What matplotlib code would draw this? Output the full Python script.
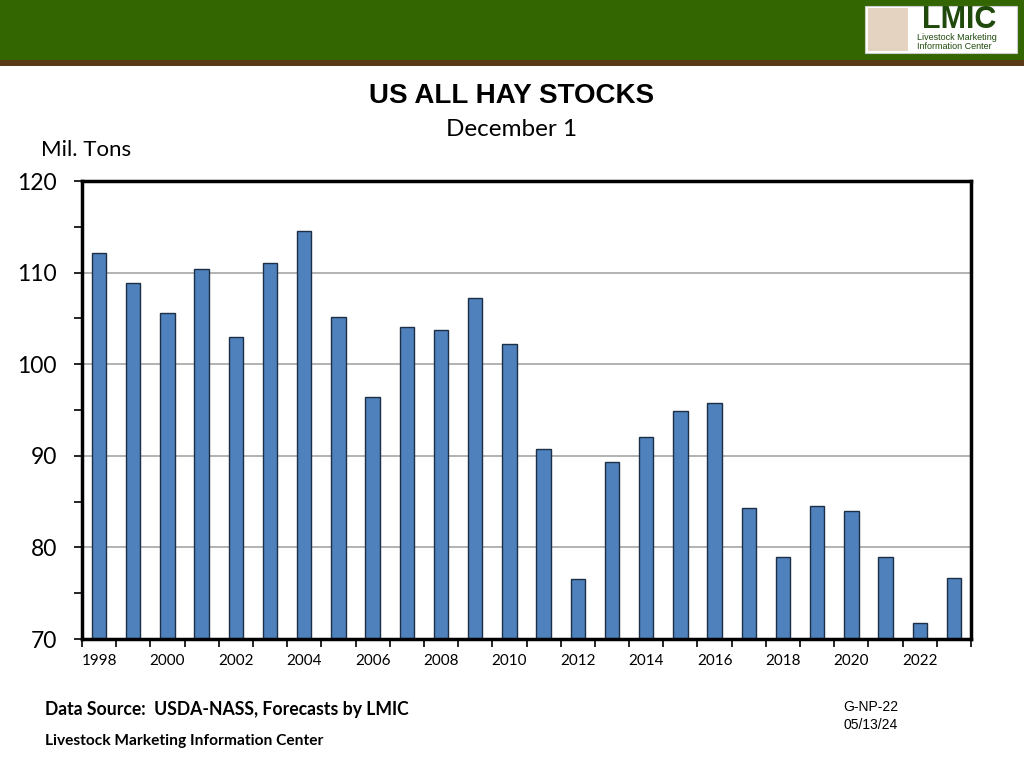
"""
US All Hay Stocks - December 1 (LMIC chart G-NP-22)
"""
import numpy as np
import matplotlib.pyplot as plt
from matplotlib.patches import Rectangle
from matplotlib.ticker import MultipleLocator

# Données (millions de tonnes)
years = list(range(1998, 2024))
stocks = [112.1, 108.9, 105.6, 110.4, 103.0, 111.0, 114.5, 105.2, 96.4, 104.1,
          103.7, 107.2, 102.2, 90.7, 76.5, 89.3, 92.0, 94.9, 95.8, 84.3,
          79.0, 84.5, 84.0, 79.0, 71.7, 76.7]
year_labels = [str(y) if y % 2 == 0 else "" for y in years]

BODY_FONT = ["Lato", "DejaVu Sans"]
ARIAL = ["Liberation Sans", "DejaVu Sans"]

fig = plt.figure(figsize=(10.24, 7.68), dpi=100)
fig.patch.set_facecolor("white")

# Bandeau vert + filet brun en haut
fig.patches.append(Rectangle((0, 1 - 60 / 768), 1, 60 / 768, transform=fig.transFigure,
                             facecolor="#336600", edgecolor="none", zorder=0))
fig.patches.append(Rectangle((0, 1 - 66 / 768), 1, 6 / 768, transform=fig.transFigure,
                             facecolor="#5b3b17", edgecolor="none", zorder=0))

# Logo LMIC (simplifié)
fig.patches.append(Rectangle((865 / 1024, 1 - 53 / 768), 152 / 1024, 47 / 768,
                             transform=fig.transFigure, facecolor="white",
                             edgecolor="#cccccc", linewidth=0.8, zorder=1))
fig.patches.append(Rectangle((868 / 1024, 1 - 51 / 768), 40 / 1024, 43 / 768,
                             transform=fig.transFigure, facecolor="#e3d3c0",
                             edgecolor="none", zorder=2))
fig.text(959 / 1024, 1 - 20 / 768, "LMIC", fontsize=22, fontweight="bold",
         color="#1f4a0c", ha="center", va="center", family=ARIAL, zorder=3)
fig.text(917 / 1024, 1 - 42 / 768, "Livestock Marketing\nInformation Center",
         fontsize=6.5, color="#1f4a0c", ha="left", va="center",
         family=ARIAL, linespacing=1.0, zorder=3)

# Titres
fig.text(512 / 1024, 1 - 96 / 768, "US ALL HAY STOCKS", fontsize=20,
         fontweight="bold", ha="center", va="center", family=ARIAL)
fig.text(512 / 1024, 1 - 130 / 768, "December 1", fontsize=17.5,
         ha="center", va="center", family=BODY_FONT)
fig.text(86 / 1024, 1 - 150 / 768, "Mil. Tons", fontsize=16,
         ha="center", va="center", family=BODY_FONT)

# Zone du graphique
ax = fig.add_axes([82 / 1024, 1 - 639 / 768, 889 / 1024, 458 / 768])
x = np.arange(len(years))
ax.bar(x, [s - 70 for s in stocks], bottom=70, width=0.42, color="#4f81bd",
       edgecolor="#1c2f44", linewidth=1.0, zorder=3)

ax.set_xlim(-0.5, len(years) - 0.5)
ax.set_ylim(70, 120)
ax.yaxis.set_major_locator(MultipleLocator(10))
ax.yaxis.set_minor_locator(MultipleLocator(5))
ax.grid(axis="y", which="major", color="#a6a6a6", linewidth=1.2, zorder=0)

# Graduations X entre les catégories, étiquettes sous les barres
ax.set_xticks(x)
ax.set_xticklabels(year_labels, family=BODY_FONT, fontsize=11)
ax.tick_params(axis="x", which="major", length=0, pad=11)
ax.set_xticks(np.arange(-0.5, len(years)), minor=True)
ax.tick_params(axis="x", which="minor", length=6, width=1.2, direction="out")

ax.tick_params(axis="y", which="major", length=6, width=1.2, direction="out",
               labelsize=16.5, pad=12)
ax.tick_params(axis="y", which="minor", length=6, width=1.2, direction="out")
for lab in ax.get_yticklabels():
    lab.set_family(BODY_FONT)

for side in ["left", "right", "top", "bottom"]:
    ax.spines[side].set_linewidth(2.5)
    ax.spines[side].set_color("black")
    ax.spines[side].set_zorder(4)

# Pied de page
fig.text(45 / 1024, 1 - 709 / 768, "Data Source:  USDA-NASS, Forecasts by LMIC",
         fontsize=12.7, fontweight="bold", ha="left", va="center", family=BODY_FONT)
fig.text(45 / 1024, 1 - 741 / 768, "Livestock Marketing Information Center",
         fontsize=11.2, fontweight="bold", ha="left", va="center", family=BODY_FONT)
fig.text(843 / 1024, 1 - 707 / 768, "G-NP-22", fontsize=10,
         ha="left", va="center", family=ARIAL)
fig.text(843 / 1024, 1 - 725 / 768, "05/13/24", fontsize=10,
         ha="left", va="center", family=ARIAL)

fig.savefig("out.png", dpi=100)
